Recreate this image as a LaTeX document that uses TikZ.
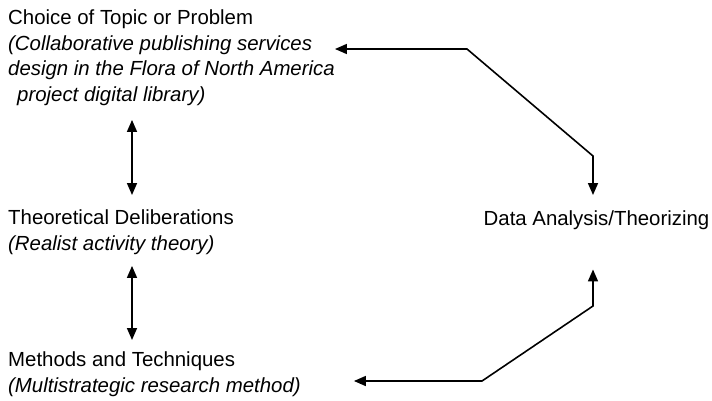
\documentclass[tikz,border=0pt]{standalone}
\usepackage{fontspec}
\setmainfont{Liberation Sans}
\usetikzlibrary{positioning}
\usetikzlibrary{calc}
\usetikzlibrary{arrows.meta}

\begin{document}
\begin{tikzpicture} [x=1pt,y=-1pt,
            twoway/.style={{Triangle[length=12pt,width=10pt]}-{Triangle[length=12pt,width=10pt]},line width=1.6pt},
         every node/.append style={align=left,inner sep=0pt,font=\fontsize{20.4}{25.5}\selectfont}]
\useasboundingbox (0,0) rectangle (712,400);
\node (choice) at (8,10) [anchor=north west] {Choice of Topic or Problem\\\textit{(Collaborative publishing services}\\\textit{design in the Flora of North America}\\\hspace*{9pt}\textit{project digital library)}}
node (theory) at (8,210) [anchor=north west] {Theoretical Deliberations\\\textit{(Realist activity theory)}}
node (methods) at (8,352) [anchor=north west] {Methods and Techniques\\\textit{(Multistrategic research method)}}
node (data) at (596.5,225) [anchor=base] {Data Analysis/Theorizing}
 ;
\coordinate (topbend) at (467,49);
\coordinate (topknee) at (593,156);
\coordinate (botknee) at (593,306);
\coordinate (botbend) at (482,381);

\draw[twoway] (choice.east |- topbend) -- (topbend) -- (topknee) -- ($(topknee |- data.north)+(0,-15)$);
\draw[twoway] ($(botknee |- data.south)+(0,40)$) -- (botknee) -- (botbend) -- ($(methods.east |- botbend)+(53,0)$);
\draw[twoway] ($(choice.south west)+(124,14)$) -- ($(theory.north west)+(124,-15)$);
\draw[twoway] ($(theory.south west)+(124,11)$) -- ($(methods.north west)+(124,-12)$);
\end{tikzpicture}
\end{document}
